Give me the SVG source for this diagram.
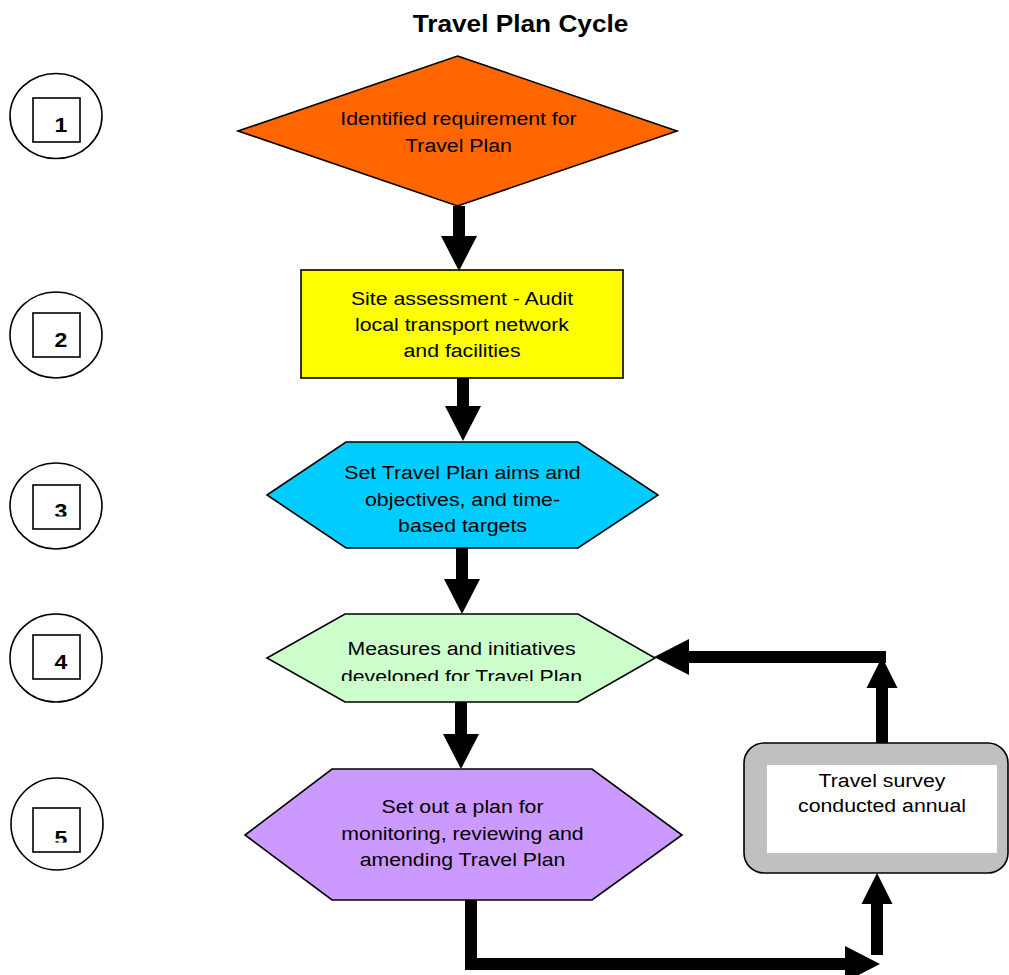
<svg xmlns="http://www.w3.org/2000/svg" width="1009" height="975" viewBox="0 0 1009 975">
<style>
text{font-family:"Liberation Sans",Arial,sans-serif;font-size:19px;fill:#000;text-anchor:middle}
.title{font-weight:bold;font-size:23px}
.num{font-weight:bold;font-size:21px}
.s{stroke:#000;stroke-width:1.6}
.c{fill:#fff;stroke:#000;stroke-width:1.6}
.conn{fill:none;stroke:#000;stroke-width:12;stroke-linejoin:miter}
</style>
<defs>
<marker id="ah" markerUnits="userSpaceOnUse" markerWidth="35" markerHeight="36" viewBox="0 0 35 36" refX="0" refY="18" orient="auto" overflow="visible">
<path d="M0,0 L35,18 L0,36 z" fill="#000"/>
</marker>
<marker id="ahs" markerUnits="userSpaceOnUse" markerWidth="31" markerHeight="31" viewBox="0 0 31 31" refX="0" refY="15.5" orient="auto" overflow="visible">
<path d="M0,0 L31,15.5 L0,31 z" fill="#000"/>
</marker>
<clipPath id="clip3"><rect x="0" y="0" width="120" height="516.5"/></clipPath>
<clipPath id="clip5"><rect x="0" y="700" width="120" height="142.5"/></clipPath>
<clipPath id="cliphex3"><rect x="260" y="440" width="400" height="96"/></clipPath>
<clipPath id="cliphex4"><rect x="260" y="612" width="400" height="69"/></clipPath>
</defs>

<g id="title"><g transform="translate(520.5 0) scale(1.14 1)"><text class="title" x="0" y="32">Travel Plan Cycle</text></g></g>

<g id="step1">
<ellipse class="c" cx="56" cy="116" rx="46" ry="42.5"/>
<rect class="c" x="33" y="98" width="47" height="44"/>
<g transform="translate(61 0) scale(1.1 1)"><text class="num" x="0" y="132">1</text></g>
</g>
<g id="step2">
<ellipse class="c" cx="56" cy="335" rx="46" ry="43"/>
<rect class="c" x="33" y="313" width="47" height="44"/>
<g transform="translate(61 0) scale(1.1 1)"><text class="num" x="0" y="347">2</text></g>
</g>
<g id="step3">
<ellipse class="c" cx="56" cy="506" rx="46" ry="43"/>
<rect class="c" x="33" y="485" width="47" height="44"/>
<g clip-path="url(#clip3)"><g transform="translate(61 0) scale(1.1 1)"><text class="num" x="0" y="518">3</text></g></g>
</g>
<g id="step4">
<ellipse class="c" cx="56" cy="658" rx="46" ry="44"/>
<rect class="c" x="33" y="635" width="47" height="44"/>
<g transform="translate(61 0) scale(1.1 1)"><text class="num" x="0" y="669">4</text></g>
</g>
<g id="step5">
<ellipse class="c" cx="57" cy="824" rx="46" ry="46"/>
<rect class="c" x="33" y="808" width="47" height="44"/>
<g clip-path="url(#clip5)"><g transform="translate(61 0) scale(1.1 1)"><text class="num" x="0" y="845">5</text></g></g>
</g>

<g id="n1">
<polygon class="s" fill="#ff6600" points="457.5,56 677,131 457.5,206 238,131"/>
<g transform="translate(458.5 0) scale(1.12 1)">
<text x="0" y="125">Identified requirement for</text>
<text x="0" y="152">Travel Plan</text>
</g>
</g>

<g id="n2">
<rect class="s" fill="#ffff00" x="301" y="270" width="322" height="108"/>
<g transform="translate(462 0) scale(1.12 1)">
<text x="0" y="305">Site assessment - Audit</text>
<text x="0" y="331">local transport network</text>
<text x="0" y="357">and facilities</text>
</g>
</g>

<g id="n3">
<polygon class="s" fill="#00ccff" points="267,495 346,442 578,442 658,495 578,548 346,548"/>
<g clip-path="url(#cliphex3)"><g transform="translate(462.5 0) scale(1.12 1)">
<text x="0" y="479">Set Travel Plan aims and</text>
<text x="0" y="506">objectives, and time-</text>
<text x="0" y="532">based targets</text>
</g></g>
</g>

<g id="n4">
<polygon class="s" fill="#ccffcc" points="267,658 345,614 578,614 655,658 578,702 345,702"/>
<g clip-path="url(#cliphex4)"><g transform="translate(461.5 0) scale(1.12 1)">
<text x="0" y="655">Measures and initiatives</text>
<text x="0" y="683">developed for Travel Plan</text>
</g></g>
</g>

<g id="n5">
<polygon class="s" fill="#cc99ff" points="245,835 332,769 592,769 682,835 592,900 332,900"/>
<g transform="translate(462.5 0) scale(1.12 1)">
<text x="0" y="813">Set out a plan for</text>
<text x="0" y="840">monitoring, reviewing and</text>
<text x="0" y="866">amending Travel Plan</text>
</g>
</g>

<g id="n6">
<rect class="s" fill="#c0c0c0" x="744" y="743" width="264" height="130" rx="20" ry="20"/>
<rect fill="#ffffff" x="767" y="765" width="230" height="88"/>
<g transform="translate(882 0) scale(1.12 1)">
<text x="0" y="787">Travel survey</text>
<text x="0" y="812">conducted annual</text>
</g>
</g>

<g id="connectors">
<path class="conn" d="M459,206 V236" marker-end="url(#ah)"/>
<path class="conn" d="M463,378 V406" marker-end="url(#ah)"/>
<path class="conn" d="M462,548 V579" marker-end="url(#ah)"/>
<path class="conn" d="M461,702 V734" marker-end="url(#ah)"/>
<path class="conn" d="M471,900 V964 H845" marker-end="url(#ah)"/>
<path class="conn" d="M877,955 V904" marker-end="url(#ahs)"/>
<path class="conn" d="M882,743 V688" marker-end="url(#ahs)"/>
<path class="conn" d="M886,657 H689" marker-end="url(#ah)"/>
</g>
</svg>
